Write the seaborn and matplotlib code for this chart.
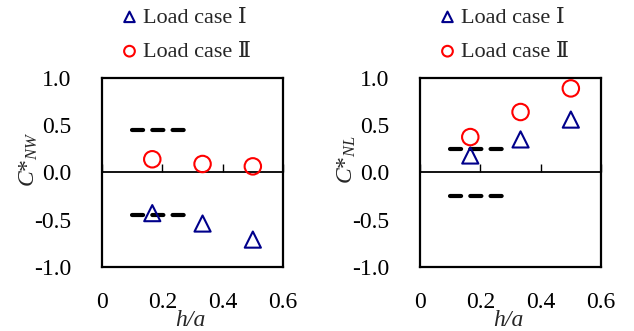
import matplotlib
matplotlib.use("Agg")
import matplotlib.pyplot as plt
import seaborn as sns

# Non-dimensional wall / lid coefficients versus height ratio h/a
h_over_a = [1 / 6, 1 / 3, 1 / 2]

nw_case1 = [-0.43, -0.54, -0.71]
nw_case2 = [0.14, 0.09, 0.065]

nl_case1 = [0.18, 0.35, 0.56]
nl_case2 = [0.375, 0.64, 0.89]

# Reference bounds drawn as short dashed bars
bound_x = [0.1, 0.28]
nw_bounds = [0.45, -0.45]
nl_bounds = [0.25, -0.25]

x_ticks = [0, 0.2, 0.4, 0.6]
x_tick_labels = ["0", "0.2", "0.4", "0.6"]
y_ticks = [-1.0, -0.5, 0.0, 0.5, 1.0]
y_tick_labels = ["-1.0", "-0.5", "0.0", "0.5", "1.0"]

legend_labels = ["Load case Ⅰ", "Load case Ⅱ"]
y_labels = ["$C$*$_{NW}$", "$C$*$_{NL}$"]

sns.set_theme(style="white")
plt.rcParams["font.family"] = ["Liberation Serif", "DejaVu Serif"]
plt.rcParams["mathtext.fontset"] = "custom"
plt.rcParams["mathtext.rm"] = "Liberation Serif"
plt.rcParams["mathtext.it"] = "Liberation Serif:italic"
plt.rcParams["axes.unicode_minus"] = False
plt.rcParams["lines.scale_dashes"] = False

BLUE = "#00008b"
RED = "#ff0000"
FS = 17
LEG_FS = 16

fig = plt.figure(figsize=(6.34, 3.31), dpi=100)
ax_w, ax_h = 181 / 634, 189 / 331
ax_b = 64 / 331
axes = [fig.add_axes([102 / 634, ax_b, ax_w, ax_h]),
        fig.add_axes([420 / 634, ax_b, ax_w, ax_h])]

panels = [(nw_case1, nw_case2, nw_bounds, y_labels[0]),
          (nl_case1, nl_case2, nl_bounds, y_labels[1])]

for ax, (c1, c2, bounds, ylab) in zip(axes, panels):
    for yb in bounds:
        sns.lineplot(x=bound_x, y=[yb, yb], ax=ax, color="black", lw=3.0,
                     legend=False, zorder=2)
        ln = ax.lines[-1]
        ln.set_dashes((8.0, 6.6))
        ln.set_dash_capstyle("round")

    sns.scatterplot(x=h_over_a, y=c1, ax=ax, marker="^", s=135,
                    facecolor="none", edgecolor=BLUE, linewidth=1.5,
                    label=legend_labels[0], zorder=3)
    sns.scatterplot(x=h_over_a, y=c2, ax=ax, marker="o", s=140,
                    facecolor="none", edgecolor=RED, linewidth=1.5,
                    label=legend_labels[1], zorder=3)

    ax.set_xlim(0, 0.6)
    ax.set_ylim(-1.0, 1.0)
    ax.set_xticks(x_ticks)
    ax.set_xticklabels(x_tick_labels, fontsize=FS)
    ax.set_yticks(y_ticks)
    ax.set_yticklabels(y_tick_labels, fontsize=FS)
    ax.tick_params(axis="x", length=0, pad=18, colors="black")
    ax.tick_params(axis="y", direction="in", length=6, width=0.8,
                   color="#808080", pad=22, labelcolor="black")
    for sp in ax.spines.values():
        sp.set_color("black")
        sp.set_linewidth(1.6)

    # zero line carrying the x ticks, which point upward
    zx = ax.secondary_xaxis(0.5)
    zx.set_xticks(x_ticks)
    zx.tick_params(direction="out", length=6, width=1.0, labelbottom=False,
                   labeltop=False, color="black")
    zx.spines["top"].set_linewidth(1.3)
    zx.spines["top"].set_color("black")

    ax.set_xlabel("h/a", fontsize=FS, fontstyle="italic", labelpad=0)
    ax.xaxis.set_label_coords(0.49, -0.225)
    ax.set_ylabel(ylab, fontsize=FS)
    ax.yaxis.set_label_coords(-0.345, 0.57)

    ax.legend(loc="upper left", bbox_to_anchor=(0.115, 1.375),
              frameon=False, fontsize=LEG_FS, markerscale=0.65,
              handlelength=0.6, handletextpad=0.3, labelspacing=0.62,
              borderpad=0, borderaxespad=0)

fig.savefig("out.png", dpi=100)
